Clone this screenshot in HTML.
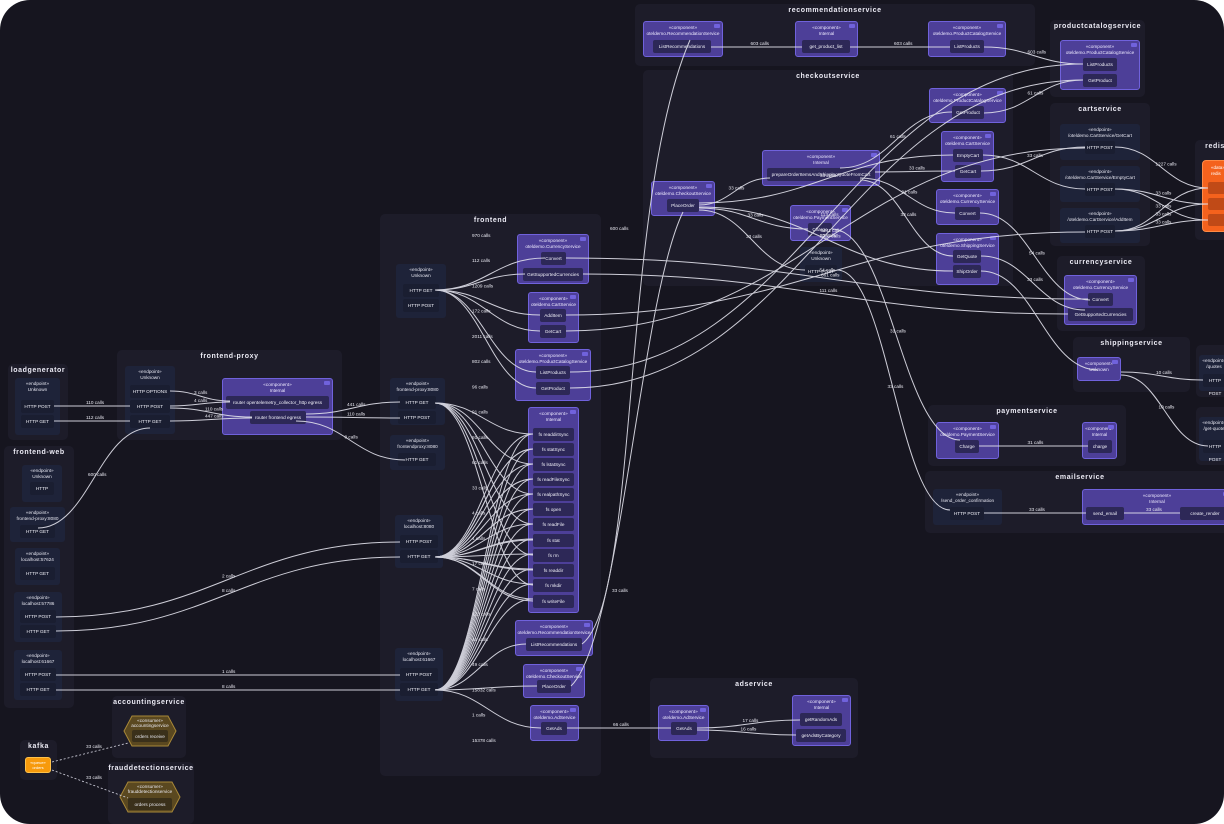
<!DOCTYPE html>
<html><head><meta charset="utf-8"><style>
*{margin:0;padding:0;box-sizing:border-box}
body{width:1224px;height:824px;background:#fff;overflow:hidden;font-family:"Liberation Sans",sans-serif}
#w{position:absolute;left:0;top:0;width:1224px;height:824px;background:#16151f;border-radius:30px;overflow:hidden}
.g{position:absolute;background:#1d1c29;border-radius:5px}
.g>b{display:block;text-align:center;color:#ecebf5;font-size:7px;font-weight:bold;letter-spacing:.6px;margin-top:3px}
.e{position:absolute;background:#1e2339;border-radius:3px;color:#e6e6f0;font-size:4.7px;text-align:center;line-height:6px;padding-top:3px}
.c{position:absolute;background:#4d3f98;border:1px solid #7062dc;border-radius:3px;color:#eeeaff;font-size:4.7px;text-align:center;line-height:6px;padding-top:3px}
.c:after{content:"";position:absolute;right:2px;top:2px;width:6px;height:4px;background:#7062dc;border-radius:1px}
.i{position:absolute;background:#2d2857;border-radius:2px;color:#f0f0f8;font-size:4.7px;text-align:center;line-height:13px;height:13px}
.ie{position:absolute;background:#1a1e31;border-radius:2px;color:#f0f0f8;font-size:4.7px;text-align:center;line-height:13px;height:13px}
svg{position:absolute;left:0;top:0}
svg text{font-family:"Liberation Sans",sans-serif;font-size:4.7px;fill:#e8e8f0}
</style></head><body><div id="w">

<div class="g" style="left:8px;top:364px;width:60px;height:76px"><b>loadgenerator</b></div>
<div class="g" style="left:4px;top:446px;width:70px;height:262px"><b>frontend-web</b></div>
<div class="g" style="left:117px;top:350px;width:225px;height:90px"><b>frontend-proxy</b></div>
<div class="g" style="left:380px;top:214px;width:221px;height:562px"><b>frontend</b></div>
<div class="g" style="left:635px;top:4px;width:400px;height:62px"><b>recommendationservice</b></div>
<div class="g" style="left:643px;top:70px;width:370px;height:216px"><b>checkoutservice</b></div>
<div class="g" style="left:1050px;top:20px;width:95px;height:77px"><b>productcatalogservice</b></div>
<div class="g" style="left:1050px;top:103px;width:100px;height:143px"><b>cartservice</b></div>
<div class="g" style="left:1195px;top:140px;width:40px;height:100px"><b>redis</b></div>
<div class="g" style="left:1057px;top:256px;width:88px;height:75px"><b>currencyservice</b></div>
<div class="g" style="left:1073px;top:337px;width:117px;height:55px"><b>shippingservice</b></div>
<div class="g" style="left:1196px;top:345px;width:40px;height:52px"></div>
<div class="g" style="left:1196px;top:407px;width:40px;height:58px"></div>
<div class="g" style="left:928px;top:405px;width:198px;height:61px"><b>paymentservice</b></div>
<div class="g" style="left:925px;top:471px;width:310px;height:62px"><b>emailservice</b></div>
<div class="g" style="left:650px;top:678px;width:208px;height:80px"><b>adservice</b></div>
<div class="g" style="left:112px;top:696px;width:74px;height:62px"><b>accountingservice</b></div>
<div class="g" style="left:108px;top:762px;width:86px;height:62px"><b>frauddetectionservice</b></div>
<div class="g" style="left:20px;top:740px;width:37px;height:40px"><b>kafka</b></div>

<div class="e" style="left:15px;top:378px;width:45px;height:57px">«endpoint»<br>Unknown</div>
<div class="ie" style="left:21px;top:400px;width:33px">HTTP POST</div>
<div class="ie" style="left:21px;top:415px;width:33px">HTTP GET</div>
<div class="e" style="left:22px;top:465px;width:40px;height:37px">«endpoint»<br>Unknown</div>
<div class="ie" style="left:30px;top:482px;width:24px">HTTP</div>
<div class="e" style="left:10px;top:507px;width:55px;height:35px">«endpoint»<br>frontend-proxy:8080</div>
<div class="ie" style="left:20px;top:525px;width:35px">HTTP GET</div>
<div class="e" style="left:15px;top:548px;width:45px;height:37px">«endpoint»<br>localhost:57624</div>
<div class="ie" style="left:20px;top:567px;width:35px">HTTP GET</div>
<div class="e" style="left:14px;top:592px;width:48px;height:50px">«endpoint»<br>localhost:57786</div>
<div class="ie" style="left:20px;top:610px;width:36px">HTTP POST</div>
<div class="ie" style="left:20px;top:625px;width:36px">HTTP GET</div>
<div class="e" style="left:14px;top:650px;width:48px;height:50px">«endpoint»<br>localhost:61667</div>
<div class="ie" style="left:20px;top:668px;width:36px">HTTP POST</div>
<div class="ie" style="left:20px;top:683px;width:36px">HTTP GET</div>
<div class="e" style="left:125px;top:366px;width:50px;height:68px">«endpoint»<br>Unknown</div>
<div class="ie" style="left:130px;top:385px;width:40px">HTTP OPTIONS</div>
<div class="ie" style="left:130px;top:400px;width:40px">HTTP POST</div>
<div class="ie" style="left:130px;top:415px;width:40px">HTTP GET</div>
<div class="c" style="left:222px;top:378px;width:111px;height:57px">«component»<br>Internal</div>
<div class="i" style="left:226px;top:396px;width:103px">router opentelemetry_collector_http egress</div>
<div class="i" style="left:250px;top:411px;width:56px">router frontend egress</div>

<div class="e" style="left:396px;top:264px;width:50px;height:54px">«endpoint»<br>Unknown</div>
<div class="ie" style="left:403px;top:284px;width:36px">HTTP GET</div>
<div class="ie" style="left:403px;top:299px;width:36px">HTTP POST</div>
<div class="c" style="left:517px;top:234px;width:72px;height:50px">«component»<br>oteldemo.CurrencyService</div>
<div class="i" style="left:541px;top:252px;width:25px">Convert</div>
<div class="i" style="left:523px;top:268px;width:60px">GetSupportedCurrencies</div>
<div class="c" style="left:528px;top:292px;width:51px;height:51px">«component»<br>oteldemo.CartService</div>
<div class="i" style="left:540px;top:309px;width:26px">AddItem</div>
<div class="i" style="left:540px;top:325px;width:26px">GetCart</div>
<div class="c" style="left:515px;top:349px;width:76px;height:52px">«component»<br>oteldemo.ProductCatalogService</div>
<div class="i" style="left:536px;top:366px;width:34px">ListProducts</div>
<div class="i" style="left:536px;top:382px;width:34px">GetProduct</div>
<div class="e" style="left:390px;top:378px;width:55px;height:47px">«endpoint»<br>frontend-proxy:8080</div>
<div class="ie" style="left:398px;top:396px;width:38px">HTTP GET</div>
<div class="ie" style="left:398px;top:411px;width:38px">HTTP POST</div>
<div class="e" style="left:390px;top:435px;width:55px;height:35px">«endpoint»<br>frontendproxy:8080</div>
<div class="ie" style="left:398px;top:453px;width:38px">HTTP GET</div>
<div class="c" style="left:528px;top:407px;width:51px;height:206px">«component»<br>Internal</div>
<div class="i" style="left:533px;top:428px;width:41px">fs readdirSync</div>
<div class="i" style="left:533px;top:443px;width:41px">fs statSync</div>
<div class="i" style="left:533px;top:458px;width:41px">fs lstatSync</div>
<div class="i" style="left:533px;top:473px;width:41px">fs readFileSync</div>
<div class="i" style="left:533px;top:488px;width:41px">fs realpathSync</div>
<div class="i" style="left:533px;top:503px;width:41px">fs open</div>
<div class="i" style="left:533px;top:518px;width:41px">fs readFile</div>
<div class="i" style="left:533px;top:534px;width:41px">fs stat</div>
<div class="i" style="left:533px;top:549px;width:41px">fs rm</div>
<div class="i" style="left:533px;top:564px;width:41px">fs readdir</div>
<div class="i" style="left:533px;top:579px;width:41px">fs mkdir</div>
<div class="i" style="left:533px;top:595px;width:41px">fs writeFile</div>
<div class="e" style="left:395px;top:515px;width:48px;height:53px">«endpoint»<br>localhost:8080</div>
<div class="ie" style="left:400px;top:535px;width:38px">HTTP POST</div>
<div class="ie" style="left:400px;top:550px;width:38px">HTTP GET</div>
<div class="c" style="left:515px;top:620px;width:78px;height:36px">«component»<br>oteldemo.RecommendationService</div>
<div class="i" style="left:526px;top:638px;width:56px">ListRecommendations</div>
<div class="e" style="left:395px;top:648px;width:48px;height:53px">«endpoint»<br>localhost:61667</div>
<div class="ie" style="left:400px;top:668px;width:38px">HTTP POST</div>
<div class="ie" style="left:400px;top:683px;width:38px">HTTP GET</div>
<div class="c" style="left:523px;top:664px;width:62px;height:34px">«component»<br>oteldemo.CheckoutService</div>
<div class="i" style="left:537px;top:680px;width:34px">PlaceOrder</div>
<div class="c" style="left:530px;top:705px;width:49px;height:36px">«component»<br>oteldemo.AdService</div>
<div class="i" style="left:541px;top:722px;width:26px">GetAds</div>

<div class="c" style="left:643px;top:21px;width:80px;height:36px">«component»<br>oteldemo.RecommendationService</div>
<div class="i" style="left:653px;top:40px;width:58px">ListRecommendations</div>
<div class="c" style="left:795px;top:21px;width:63px;height:36px">«component»<br>Internal</div>
<div class="i" style="left:802px;top:40px;width:48px">get_product_list</div>
<div class="c" style="left:928px;top:21px;width:78px;height:36px">«component»<br>oteldemo.ProductCatalogService</div>
<div class="i" style="left:950px;top:40px;width:34px">ListProducts</div>
<div class="c" style="left:1060px;top:40px;width:80px;height:50px">«component»<br>oteldemo.ProductCatalogService</div>
<div class="i" style="left:1083px;top:58px;width:34px">ListProducts</div>
<div class="i" style="left:1083px;top:74px;width:34px">GetProduct</div>
<div class="c" style="left:651px;top:181px;width:64px;height:35px">«component»<br>oteldemo.CheckoutService</div>
<div class="i" style="left:667px;top:199px;width:32px">PlaceOrder</div>
<div class="c" style="left:762px;top:150px;width:118px;height:36px">«component»<br>Internal</div>
<div class="i" style="left:767px;top:168px;width:108px">prepareOrderItemsAndShippingQuoteFromCart</div>
<div class="c" style="left:929px;top:88px;width:77px;height:35px">«component»<br>oteldemo.ProductCatalogService</div>
<div class="i" style="left:952px;top:106px;width:32px">GetProduct</div>
<div class="c" style="left:941px;top:131px;width:53px;height:51px">«component»<br>oteldemo.CartService</div>
<div class="i" style="left:953px;top:149px;width:30px">EmptyCart</div>
<div class="i" style="left:955px;top:165px;width:26px">GetCart</div>
<div class="c" style="left:936px;top:189px;width:63px;height:36px">«component»<br>oteldemo.CurrencyService</div>
<div class="i" style="left:955px;top:207px;width:25px">Convert</div>
<div class="c" style="left:790px;top:205px;width:61px;height:36px">«component»<br>oteldemo.PaymentService</div>
<div class="i" style="left:808px;top:223px;width:24px">Charge</div>
<div class="e" style="left:800px;top:247px;width:42px;height:35px">«endpoint»<br>Unknown</div>
<div class="ie" style="left:805px;top:265px;width:32px">HTTP POST</div>
<div class="c" style="left:936px;top:233px;width:63px;height:52px">«component»<br>oteldemo.ShippingService</div>
<div class="i" style="left:953px;top:250px;width:28px">GetQuote</div>
<div class="i" style="left:953px;top:265px;width:28px">ShipOrder</div>
<div class="e" style="left:1060px;top:124px;width:80px;height:36px">«endpoint»<br>/oteldemo.CartService/GetCart</div>
<div class="ie" style="left:1085px;top:141px;width:30px">HTTP POST</div>
<div class="e" style="left:1060px;top:166px;width:80px;height:36px">«endpoint»<br>/oteldemo.CartService/EmptyCart</div>
<div class="ie" style="left:1085px;top:183px;width:30px">HTTP POST</div>
<div class="e" style="left:1060px;top:208px;width:80px;height:35px">«endpoint»<br>/oteldemo.CartService/AddItem</div>
<div class="ie" style="left:1085px;top:225px;width:30px">HTTP POST</div>
<div style="position:absolute;left:1202px;top:160px;width:30px;height:72px;background:#f4621d;border:1px solid #ff8a45;border-radius:4px;color:#fff;font-size:4.5px;padding:4px 0 0 8px;line-height:6px">«data»<br>redis</div>
<div style="position:absolute;left:1208px;top:182px;width:20px;height:12px;background:#c04a17;border-radius:2px"></div>
<div style="position:absolute;left:1208px;top:198px;width:20px;height:12px;background:#c04a17;border-radius:2px"></div>
<div style="position:absolute;left:1208px;top:214px;width:20px;height:12px;background:#c04a17;border-radius:2px"></div>
<div class="c" style="left:1064px;top:275px;width:73px;height:50px">«component»<br>oteldemo.CurrencyService</div>
<div class="i" style="left:1088px;top:293px;width:25px">Convert</div>
<div class="i" style="left:1068px;top:308px;width:65px">GetSupportedCurrencies</div>
<div class="c" style="left:1077px;top:357px;width:44px;height:24px">«component»<br>Unknown</div>
<div class="e" style="left:1199px;top:355px;width:30px;height:36px">«endpoint»<br>/quotes</div>
<div class="ie" style="left:1203px;top:374px;width:24px">HTTP POST</div>
<div class="e" style="left:1199px;top:417px;width:30px;height:44px">«endpoint»<br>/get-quote</div>
<div class="ie" style="left:1203px;top:440px;width:24px">HTTP POST</div>
<div class="c" style="left:936px;top:422px;width:63px;height:37px">«component»<br>oteldemo.PaymentService</div>
<div class="i" style="left:955px;top:440px;width:24px">Charge</div>
<div class="c" style="left:1082px;top:422px;width:35px;height:37px">«component»<br>Internal</div>
<div class="i" style="left:1088px;top:440px;width:24px">charge</div>
<div class="e" style="left:933px;top:489px;width:69px;height:36px">«endpoint»<br>/send_order_confirmation</div>
<div class="ie" style="left:950px;top:507px;width:34px">HTTP POST</div>
<div class="c" style="left:1082px;top:489px;width:150px;height:36px">«component»<br>Internal</div>
<div class="i" style="left:1086px;top:507px;width:38px">send_email</div>
<div class="i" style="left:1180px;top:507px;width:50px">create_render</div>
<div class="c" style="left:658px;top:705px;width:51px;height:36px">«component»<br>oteldemo.AdService</div>
<div class="i" style="left:671px;top:722px;width:26px">GetAds</div>
<div class="c" style="left:792px;top:695px;width:59px;height:51px">«component»<br>Internal</div>
<div class="i" style="left:800px;top:713px;width:42px">getRandomAds</div>
<div class="i" style="left:796px;top:729px;width:50px">getAdsByCategory</div>
<div style="position:absolute;left:25px;top:757px;width:26px;height:16px;background:#f79a0c;border:1px solid #ffc24a;border-radius:3px;color:#fff;font-size:4px;text-align:center;line-height:5px;padding-top:2px">«queue»<br>orders</div>
<svg width="1224" height="824" style="pointer-events:none">
<polygon points="132,716 168,716 176,731 168,746 132,746 124,731" fill="#5a4820" stroke="#a88838"/>
<rect x="132" y="730" width="36" height="12" rx="2" fill="#3a301a"/>
<text x="150" y="722" text-anchor="middle">«consumer»</text><text x="150" y="727" text-anchor="middle">accountingservice</text><text x="150" y="738" text-anchor="middle">orders receive</text>
<polygon points="128,782 172,782 180,797 172,812 128,812 120,797" fill="#5a4820" stroke="#a88838"/>
<rect x="128" y="798" width="44" height="12" rx="2" fill="#3a301a"/>
<text x="150" y="788" text-anchor="middle">«consumer»</text><text x="150" y="793" text-anchor="middle">frauddetectionservice</text><text x="150" y="806" text-anchor="middle">orders process</text>
<g id="E" fill="none" stroke="#e2e2ec" stroke-width="1" opacity=".9"></g>
<g id="L"></g>
<path d="M52,762 L128,743 M52,770 L128,798" stroke="#d8d8e4" stroke-width=".8" stroke-dasharray="2,2" fill="none"/>
<text x="86" y="748">33 calls</text><text x="86" y="779">33 calls</text>
</svg>
<script>
var E=document.getElementById('E'),L=document.getElementById('L'),s='';
function c(x1,y1,x2,y2,lab){var dx=(x2-x1)*0.45;s+='<path d="M'+x1+','+y1+' C'+(x1+dx)+','+y1+' '+(x2-dx)+','+y2+' '+x2+','+y2+'"/>';if(lab){L.innerHTML+='<text x="'+((x1+x2)/2-6)+'" y="'+((y1+y2)/2-2)+'">'+lab+'</text>';}}
c(54,406,130,406,'110 calls');c(54,421,130,421,'112 calls');
c(38,528,150,428,'600 calls');
c(170,391,230,401,'3 calls');c(170,406,230,402,'4 calls');c(170,408,252,417,'110 calls');c(170,421,252,418,'447 calls');
c(306,414,400,402,'441 calls');c(306,417,400,418,'110 calls');c(296,421,405,460,'8 calls');
var F=[[420,290],[420,403],[420,557],[420,690]];
var T=[[545,258],[525,274],[540,315],[540,331],[536,372],[536,388],[533,434],[533,449],[533,464],[533,479],[533,494],[533,509],[533,524],[533,540],[533,555],[533,570],[533,585],[533,601],[526,644],[537,686],[541,728]];
var labs=['970 calls','112 calls','1209 calls','172 calls','2011 calls','802 calls','96 calls','91 calls','91 calls','61 calls','33 calls','4 calls','4 calls','17 calls','7 calls','128 calls','41 calls','49 calls','15832 calls','1 calls','15378 calls'];
for(var i=0;i<T.length;i++){var f=F[i<6?0:(i<18?(i%2?2:1):3)];c(f[0]+15,f[1],T[i][0],T[i][1]);L.innerHTML+='<text x="472" y="'+(237+i*(530/T.length))+'">'+labs[i]+'</text>';}
for(var i=0;i<12;i++){c(435,557,533,434+i*15);c(435,690,533,434+i*15);}
c(56,617,400,542,'2 calls');c(56,631,400,557,'8 calls');c(56,675,400,675,'1 calls');c(56,690,400,690,'8 calls');
c(566,258,1088,299,'661 calls');c(583,274,1068,314,'111 calls');c(566,315,1085,232,'54 calls');c(566,331,1085,148,'1226 calls');
c(570,372,1083,64,'113 calls');c(570,388,1083,80,'3441 calls');
s+='<path d="M582,644 C640,600 620,200 690,40"/><path d="M571,686 C620,640 640,300 683,212"/>';
L.innerHTML+='<text x="610" y="230">600 calls</text><text x="612" y="592">33 calls</text>';
c(567,728,671,728,'66 calls');
c(711,47,802,47,'603 calls');c(850,47,950,47,'603 calls');c(984,47,1083,64,'603 calls');
c(699,205,770,178,'33 calls');c(699,203,953,155,'33 calls');c(699,208,808,229,'33 calls');c(699,210,805,270,'33 calls');c(699,207,953,271,'33 calls');
c(840,168,952,112,'61 calls');c(875,172,955,171,'33 calls');c(860,178,955,213,'91 calls');c(860,180,953,256,'33 calls');
c(832,229,960,440,'31 calls');c(837,270,950,510,'33 calls');
c(983,155,1085,189);c(981,171,1085,147,'33 calls');c(984,113,1083,80,'61 calls');c(980,213,1090,300,'54 calls');c(981,256,1085,310,'33 calls');c(981,271,1098,370);
c(979,446,1088,446,'31 calls');c(984,513,1086,513,'33 calls');c(1124,513,1180,513,'33 calls');
c(1115,147,1208,188,'1227 calls');c(1115,189,1208,204,'33 calls');c(1115,189,1208,220);c(1115,231,1208,188,'33 calls');c(1115,231,1208,204,'33 calls');c(1115,231,1208,220,'33 calls');
c(1121,372,1203,380,'10 calls');c(1121,375,1208,446,'10 calls');
c(697,728,800,720,'17 calls');c(697,730,796,735,'16 calls');
E.innerHTML=s;
</script>
</div></body></html>
